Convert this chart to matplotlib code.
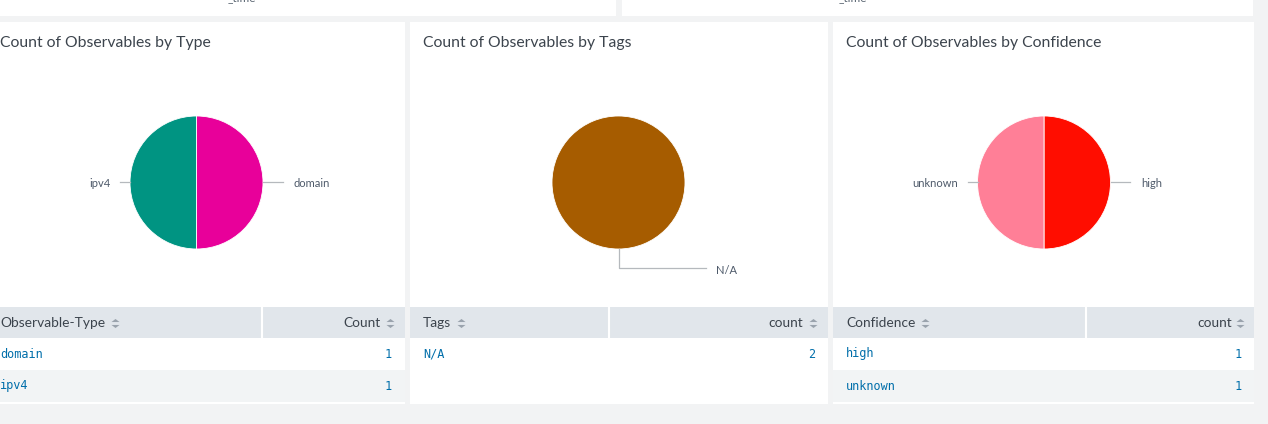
import numpy as np
import matplotlib
matplotlib.use("Agg")
import matplotlib.pyplot as plt
from matplotlib.patches import Rectangle

# ---------------- data ----------------
titles = ["Count of Observables by Type", "Count of Observables by Tags",
          "Count of Observables by Confidence"]
type_labels = ["domain", "ipv4"]
type_counts = [1, 1]
tag_labels = ["N/A"]
tag_counts = [2]
conf_labels = ["high", "unknown"]
conf_counts = [1, 1]
table_headers = [("Observable-Type", "Count"), ("Tags", "count"), ("Confidence", "count")]

type_colors = ["#e8009a", "#009482"]
tag_colors = ["#a65c00"]
conf_colors = ["#ff0d00", "#ff7f97"]

# ---------------- layout ----------------
W, H = 1268, 424
DPI = 100
fig = plt.figure(figsize=(W / DPI, H / DPI), dpi=DPI)
fig.patch.set_facecolor("#f2f3f4")

bg = fig.add_axes([0, 0, 1, 1])
bg.set_xlim(0, W)
bg.set_ylim(H, 0)
bg.axis("off")

SANS = ["Lato", "DejaVu Sans"]
MONO = ["DejaVu Sans Mono"]
TXT = "#3c444d"
LINK = "#006eaa"
HDR_BG = "#e1e6eb"
ROW_BG = "#f2f4f5"

# top strip panels
for x0, x1, cx in [(0, 616, 242), (622, 1253, 853)]:
    bg.add_patch(Rectangle((x0, 0), x1 - x0, 16, facecolor="white", edgecolor="none"))
    bg.text(cx, -2, "_time", ha="center", va="center", fontsize=8.5,
            color="#5c6773", family=SANS, clip_on=True)

panels = [(0, 405), (410, 828), (833, 1254)]
dividers = [262, 609, 1086]
pie_centers = [(196.5, 182.5), (618.5, 182.5), (1044, 182.5)]
hdr_right = [24, 25, 22]
val_right = [13, 13, 12]
icon_right = [15, 15, 14]

tables = [(type_labels, type_counts), (tag_labels, tag_counts), (conf_labels, conf_counts)]
pies = [(type_counts, type_labels, type_colors),
        (tag_counts, tag_labels, tag_colors),
        (conf_counts, conf_labels, conf_colors)]

header_texts = []
for i, (x0, x1) in enumerate(panels):
    bg.add_patch(Rectangle((x0, 22), x1 - x0, 382, facecolor="white", edgecolor="none"))
    tx = x0 if i == 0 else x0 + 13
    bg.text(tx, 42.5, titles[i], ha="left", va="center", fontsize=11.3,
            color=TXT, family=SANS)
    # table header
    bg.add_patch(Rectangle((x0, 307), x1 - x0, 31, facecolor=HDR_BG, edgecolor="none"))
    bg.plot([dividers[i], dividers[i]], [307, 338], color="white", lw=1.5)
    lx = x0 if i == 0 else x0 + 13
    rx = x1 - hdr_right[i]
    h1, h2 = table_headers[i]
    t1 = bg.text(lx, 323, h1, ha="left", va="center", fontsize=9.9, color=TXT, family=SANS)
    t2 = bg.text(rx, 323, h2, ha="right", va="center", fontsize=9.9, color=TXT, family=SANS)
    header_texts.append((t1, x1 - icon_right[i]))
    labels, counts = tables[i]
    for r, (lab, cnt) in enumerate(zip(labels, counts)):
        y0 = 338 + 32 * r
        if r % 2 == 1:
            bg.add_patch(Rectangle((x0, y0), x1 - x0, 32, facecolor=ROW_BG, edgecolor="none"))
        bg.text(lx, y0 + 16, lab, ha="left", va="center", fontsize=8.6,
                color=LINK, family=MONO)
        bg.text(x1 - val_right[i], y0 + 16, str(cnt), ha="right", va="center",
                fontsize=8.6, color=LINK, family=MONO)

# sort icons next to header texts
fig.canvas.draw()
renderer = fig.canvas.get_renderer()
inv = bg.transData.inverted()
up = [(-1, -0.38), (1, -0.38), (0, 0.38), (-1, -0.38)]
down = [(-1, 0.38), (1, 0.38), (0, -0.38), (-1, 0.38)]
for t1, xr in header_texts:
    bb = t1.get_window_extent(renderer)
    (xa, _), = inv.transform([(bb.x1, 0)])
    for xi in (xa + 9.5, xr):
        bg.plot([xi], [319.5], marker=up, ms=5.8, color="#9aa3ad", mec="none")
        bg.plot([xi], [325.8], marker=down, ms=5.8, color="#9aa3ad", mec="none")

# ---------------- pies ----------------
R_PX = 66.5
LINE_C = "#b5b9bd"
LBL_C = "#4e5a6a"
for i, (vals, labs, cols) in enumerate(pies):
    cx, cy = pie_centers[i]
    half = R_PX * 1.6
    ax = fig.add_axes([(cx - half) / W, 1 - (cy + half) / H, 2 * half / W, 2 * half / H])
    ax.pie(vals, colors=cols, startangle=90, counterclock=False, radius=1.0,
           wedgeprops=dict(edgecolor="white", linewidth=0.6))
    ax.set_xlim(-1.6, 1.6)
    ax.set_ylim(-1.6, 1.6)
    ax.axis("off")
    if len(vals) == 1:
        ax.plot([0, 0, 1.31], [-1.0, -1.29, -1.29], color=LINE_C, lw=0.9)
        ax.text(1.46, -1.32, labs[0], ha="left", va="center", fontsize=8,
                color=LBL_C, family=SANS)
        continue
    total = float(sum(vals))
    start = 90.0
    for v, lab in zip(vals, labs):
        sweep = 360.0 * v / total
        mid = np.deg2rad(start - sweep / 2)
        start -= sweep
        y = np.sin(mid)
        if np.cos(mid) >= 0:
            ax.plot([1.0, 1.3], [y, y], color=LINE_C, lw=0.9)
            ax.text(1.46, y - 0.02, lab, ha="left", va="center", fontsize=8,
                    color=LBL_C, family=SANS)
        else:
            ax.plot([-1.0, -1.15], [y, y], color=LINE_C, lw=0.9)
            ax.text(-1.29, y - 0.02, lab, ha="right", va="center", fontsize=8,
                    color=LBL_C, family=SANS)

fig.savefig("out.png", dpi=DPI, facecolor=fig.get_facecolor())
